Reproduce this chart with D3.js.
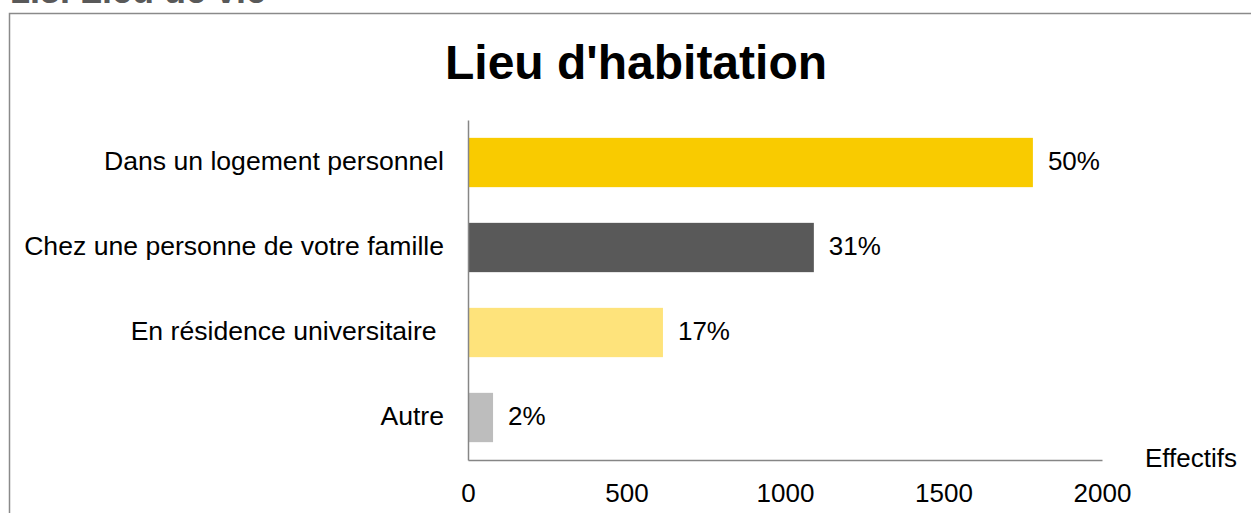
<!DOCTYPE html>
<html>
<head>
<meta charset="utf-8">
<script src="https://cdn.jsdelivr.net/npm/d3@7"></script>
<style>
  html, body { margin: 0; padding: 0; background: #fff; }
  svg { display: block; font-family: "Liberation Sans", Arial, sans-serif; }
</style>
</head>
<body>
<svg id="chart" width="1251" height="513"></svg>
<script>
/* ── Data ─────────────────────────────────────────────── */
const categories = [
  'Dans un logement personnel',
  'Chez une personne de votre famille',
  'En résidence universitaire ',
  'Autre',
];
const counts   = [1782, 1091, 615, 79];
const percents = ['50%', '31%', '17%', '2%'];
const xTicks   = [0, 500, 1000, 1500, 2000];
const barColors = ['#F9CB00', '#595959', '#FEE37B', '#BDBDBD'];

/* ── Layout ───────────────────────────────────────────── */
const plot = { left: 468, right: 1102, top: 120, bottom: 460 };

const svg = d3.select('#chart');

// outer frame (runs off the right / bottom edges)
svg.append('rect')
  .attr('x', 9.5).attr('y', 13.5)
  .attr('width', 1400).attr('height', 700)
  .attr('fill', 'none')
  .attr('stroke', '#8a8a8a')
  .attr('stroke-width', 1.5);

// section heading, cut off at the top of the picture (as in the source)
svg.append('text')
  .attr('x', 10).attr('y', 3)
  .attr('font-size', '36px')
  .attr('font-weight', 'bold')
  .attr('fill', '#595959')
  .text('1.3. Lieu de vie');

svg.append('text')
  .attr('x', 636).attr('y', 79)
  .attr('text-anchor', 'middle')
  .attr('font-size', '48px')
  .attr('font-weight', 'bold')
  .attr('fill', '#000')
  .text("Lieu d'habitation");

/* ── Scales ───────────────────────────────────────────── */
const x = d3.scaleLinear().domain([0, 2000]).range([plot.left, plot.right]);
const y = d3.scaleBand().domain(categories)
  .range([plot.top, plot.bottom])
  .paddingInner(0.42).paddingOuter(0.21);
const color = d3.scaleOrdinal().domain(categories).range(barColors);

const rows = categories.map((c, i) => ({ cat: c, val: counts[i], pct: percents[i] }));

/* ── Bars ─────────────────────────────────────────────── */
svg.append('g').selectAll('rect').data(rows).join('rect')
  .attr('x', x(0))
  .attr('y', d => y(d.cat))
  .attr('width', d => x(d.val) - x(0))
  .attr('height', y.bandwidth())
  .attr('fill', d => color(d.cat));

// value labels
svg.append('g').selectAll('text').data(rows).join('text')
  .attr('x', d => x(d.val) + 15)
  .attr('y', d => y(d.cat) + y.bandwidth() / 2)
  .attr('dy', '0.27em')
  .attr('font-size', '26px')
  .attr('fill', '#000')
  .text(d => d.pct);

/* ── Axes ─────────────────────────────────────────────── */
const xAxis = svg.append('g')
  .attr('transform', `translate(0,${plot.bottom})`)
  .call(d3.axisBottom(x).tickValues(xTicks).tickSize(0).tickPadding(24).tickFormat(d3.format('d')));
xAxis.select('.domain').attr('stroke', '#868686').attr('stroke-width', 1.5);
xAxis.selectAll('text')
  .attr('font-size', '26px')
  .attr('font-family', '"Liberation Sans", Arial, sans-serif')
  .attr('fill', '#000');

const yAxis = svg.append('g')
  .attr('transform', `translate(${plot.left},0)`)
  .call(d3.axisLeft(y).tickSize(0).tickPadding(24));
yAxis.select('.domain').attr('stroke', '#868686').attr('stroke-width', 1.5);
yAxis.selectAll('text')
  .attr('font-size', '26.6px')
  .attr('font-family', '"Liberation Sans", Arial, sans-serif')
  .attr('fill', '#000')
  .attr('dy', '0.27em')
  .style('white-space', 'pre');

svg.append('text')
  .attr('x', 1145).attr('y', 467)
  .attr('font-size', '26px')
  .attr('fill', '#000')
  .text('Effectifs');
</script>
</body>
</html>
